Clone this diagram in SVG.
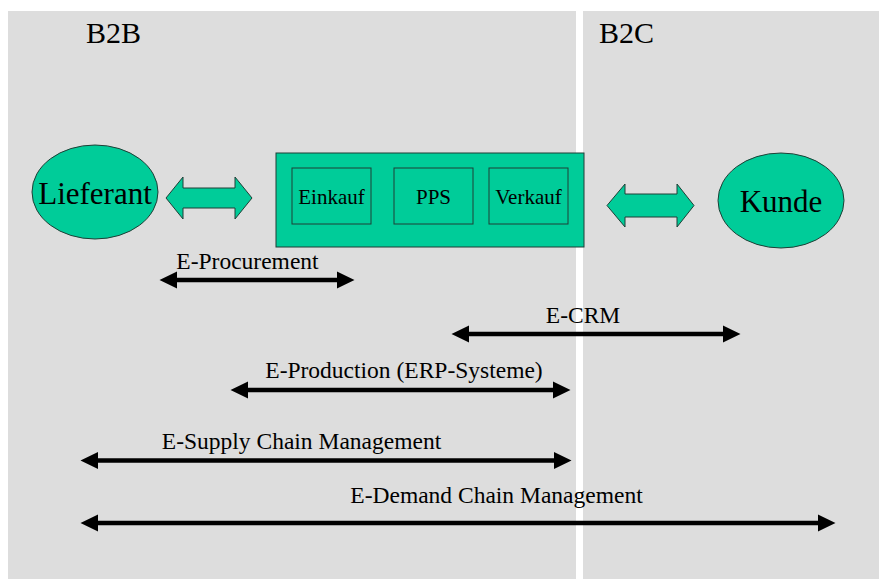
<svg xmlns="http://www.w3.org/2000/svg" width="879" height="581" viewBox="0 0 879 581">
<style>
.panel{fill:#dddddd}
.t{font-family:"Liberation Serif","Times New Roman",serif;fill:#000}
.green{fill:#00cc99;stroke:#1f3f36;stroke-width:1}
.conn{stroke:#000;stroke-width:4.5;fill:none;marker-start:url(#ah);marker-end:url(#ah)}
.lbl{font-size:23.5px;text-anchor:middle}
</style>
<defs>
<marker id="ah" markerUnits="userSpaceOnUse" markerWidth="18" markerHeight="18" viewBox="0 0 18 17" refX="0.5" refY="8.5" orient="auto-start-reverse">
<path d="M0,0 L17.5,8.5 L0,17 z" fill="#000"/>
</marker>
</defs>
<rect width="879" height="581" fill="#fff"/>
<rect class="panel" x="8" y="11" width="568" height="568"/>
<rect class="panel" x="583" y="11" width="296" height="568"/>
<text class="t" x="86" y="43" font-size="30">B2B</text>
<text class="t" x="599" y="43" font-size="30">B2C</text>

<g id="lieferant">
<ellipse class="green" cx="95" cy="192" rx="63" ry="47"/>
<text class="t" x="95" y="204" font-size="31" text-anchor="middle">Lieferant</text>
</g>
<g id="arrow-left">
<polygon class="green" points="166,198 183,177 183,188 235,188 235,177 252,198 235,219 235,208 183,208 183,219"/>
</g>
<g id="unternehmen">
<rect class="green" x="276" y="153" width="308" height="94"/>
</g>
<g id="einkauf">
<rect class="green" x="292" y="168" width="79" height="56"/>
<text class="t" x="331.5" y="204" font-size="21" text-anchor="middle">Einkauf</text>
</g>
<g id="pps">
<rect class="green" x="394" y="168" width="79" height="56"/>
<text class="t" x="433.5" y="204" font-size="21" text-anchor="middle">PPS</text>
</g>
<g id="verkauf">
<rect class="green" x="489" y="168" width="79" height="56"/>
<text class="t" x="528.5" y="204" font-size="21" text-anchor="middle">Verkauf</text>
</g>
<g id="arrow-right">
<polygon class="green" points="607,205.5 625,184 625,194 677,194 677,184 694,205.5 677,227 677,217 625,217 625,227"/>
</g>
<g id="kunde">
<ellipse class="green" cx="781" cy="200.5" rx="63" ry="47.5"/>
<text class="t" x="781" y="212" font-size="31" text-anchor="middle">Kunde</text>
</g>

<g id="connectors">
<line class="conn" x1="176.5" y1="280" x2="337.5" y2="280"/>
<line class="conn" x1="468.5" y1="334" x2="723.5" y2="334"/>
<line class="conn" x1="247.5" y1="390" x2="553.5" y2="390"/>
<line class="conn" x1="97.5" y1="460.5" x2="554.5" y2="460.5"/>
<line class="conn" x1="97.5" y1="523" x2="818.5" y2="523"/>
</g>
<g id="labels">
<text class="t lbl" x="247.5" y="269">E-Procurement</text>
<text class="t lbl" x="583" y="323">E-CRM</text>
<text class="t lbl" x="404" y="378">E-Production (ERP-Systeme)</text>
<text class="t lbl" x="301.5" y="449">E-Supply Chain Management</text>
<text class="t lbl" x="496.5" y="503">E-Demand Chain Management</text>
</g>
</svg>
